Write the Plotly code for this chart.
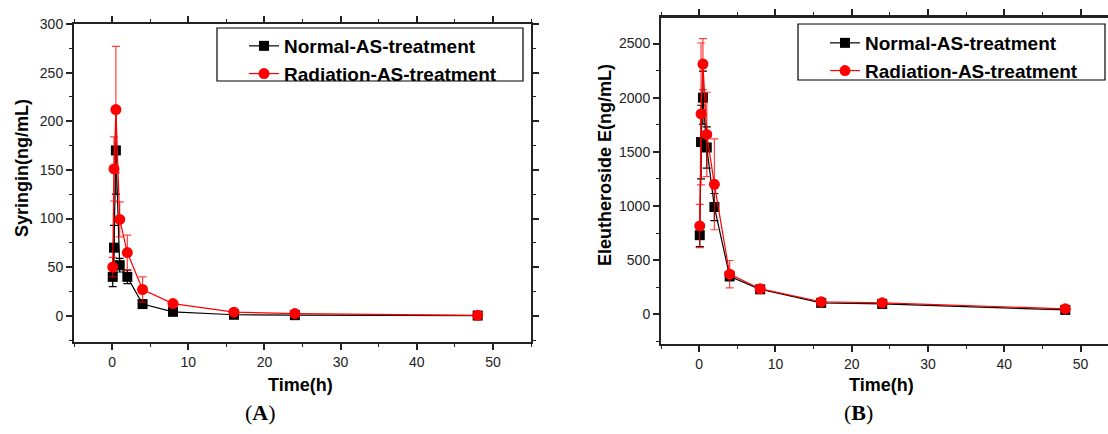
import plotly.graph_objects as go

# ---------------- data ----------------
time_h = [0.083, 0.25, 0.5, 1, 2, 4, 8, 16, 24, 48]

syringin_normal = [40, 70, 170, 52, 40, 12, 4, 1.0, 0.6, 0.2]
syringin_normal_err = [10, 23, 45, 7, 7, 2, 1, 0.5, 0.3, 0.1]
syringin_radiation = [50, 151, 212, 99, 65, 27, 12.5, 3.7, 2.2, 0.4]
syringin_radiation_err = [10, 33, 65, 18, 18, 13, 2, 1, 0.5, 0.2]

eleu_normal = [730, 1590, 2000, 1540, 990, 350, 230, 105, 95, 40]
eleu_normal_err = [105, 340, 245, 190, 125, 40, 25, 15, 10, 8]
eleu_radiation = [815, 1850, 2310, 1660, 1200, 370, 235, 115, 105, 50]
eleu_radiation_err = [200, 655, 236, 390, 420, 126, 20, 12, 10, 8]

series_names = ["Normal-AS-treatment", "Radiation-AS-treatment"]
x_ticks = [0, 10, 20, 30, 40, 50]
x_title = "Time(h)"
y_titles = ["Syringin(ng/mL)", "Eleutheroside E(ng/mL)"]
panel_labels = ["(<b>A</b>)", "(<b>B</b>)"]

# ---------------- layout helpers ----------------
W, H = 1108, 434
def px(x):
    return x / W
def py(y):
    return 1 - y / H

BLACK = "#000000"
RED = "#ff0000"
AXC = "#222222"
FONT = "Liberation Sans, Arial, sans-serif"

fig = go.Figure()

def add_series(xa, ya, leg, normal, normal_err, rad, rad_err):
    fig.add_trace(go.Scatter(
        x=time_h, y=normal, name=series_names[0], mode="lines+markers",
        error_y=dict(type="data", array=normal_err, color=BLACK, thickness=1.2, width=4),
        marker=dict(symbol="square", size=10, color=BLACK),
        line=dict(color=BLACK, width=1.2),
        xaxis=xa, yaxis=ya, legend=leg))
    fig.add_trace(go.Scatter(
        x=time_h, y=rad, name=series_names[1], mode="lines+markers",
        error_y=dict(type="data", array=rad_err, color="rgba(255,0,0,0.75)", thickness=1.2, width=4),
        marker=dict(symbol="circle", size=11, color=RED),
        line=dict(color=RED, width=1.2),
        xaxis=xa, yaxis=ya, legend=leg))

add_series("x", "y", "legend", syringin_normal, syringin_normal_err,
           syringin_radiation, syringin_radiation_err)
add_series("x2", "y2", "legend2", eleu_normal, eleu_normal_err,
           eleu_radiation, eleu_radiation_err)

axis_common = dict(
    showline=True, linecolor=AXC, linewidth=2, ticks="outside", ticklen=6,
    tickwidth=1.5, tickcolor=AXC, showgrid=False, zeroline=False, automargin=False,
    tickfont=dict(family=FONT, size=14, color=AXC),
)
minor_x = dict(dtick=5, ticks="outside", ticklen=3, tickwidth=1.2, tickcolor=AXC, showgrid=False)

title_font = dict(family=FONT, size=18, color="#000000", weight="bold")
legend_font = dict(family=FONT, size=19, color="#000000", weight="bold")
label_font = dict(family="Liberation Serif, serif", size=22, color="#000000")

def note(text, x, y, font, angle=0):
    return dict(text=text, x=px(x), y=py(y), xref="paper", yref="paper",
                xanchor="center", yanchor="middle", textangle=angle,
                showarrow=False, font=font)

fig.update_layout(
    width=W, height=H, margin=dict(l=0, r=0, t=0, b=0, autoexpand=False),
    paper_bgcolor="white", plot_bgcolor="white", showlegend=True,
    xaxis=dict(axis_common, domain=[px(74), px(531)], range=[-5, 55],
               tickvals=x_ticks, minor=minor_x, mirror="allticks", anchor="y"),
    yaxis=dict(axis_common, domain=[py(342), py(24)], range=[-27, 300],
               dtick=50, minor=dict(dtick=25, ticks="outside", ticklen=3, tickwidth=1.2, tickcolor=AXC),
               mirror="allticks", anchor="x"),
    xaxis2=dict(axis_common, domain=[px(661), 1.0], range=[-5, 53.6],
                tickvals=x_ticks, minor=minor_x, mirror="allticks", anchor="y2"),
    yaxis2=dict(axis_common, domain=[py(344), py(17)], range=[-275, 2745],
                dtick=500, minor=dict(dtick=250, ticks="outside", ticklen=3, tickwidth=1.2, tickcolor=AXC),
                mirror=False, anchor="x2"),
    legend=dict(x=px(244), y=py(27), xanchor="left", yanchor="top",
                bgcolor="rgba(0,0,0,0)", borderwidth=0, tracegroupgap=0, font=legend_font),
    legend2=dict(x=px(825), y=py(24), xanchor="left", yanchor="top",
                 bgcolor="rgba(0,0,0,0)", borderwidth=0, tracegroupgap=0, font=legend_font),
    shapes=[
        dict(type="rect", xref="paper", yref="paper", x0=px(217), x1=px(523),
             y0=py(81), y1=py(28), line=dict(color="#000000", width=1.2)),
        dict(type="rect", xref="paper", yref="paper", x0=px(798), x1=px(1105),
             y0=py(80), y1=py(24), line=dict(color="#000000", width=1.2)),
        # top border line for panel B (right border is cut off in the reference)
        dict(type="line", xref="paper", yref="paper", x0=px(661), x1=1.0,
             y0=py(17), y1=py(17), line=dict(color=AXC, width=2)),
    ],
    annotations=[
        note(x_title, 300, 385, title_font),
        note(x_title, 881, 385, title_font),
        note(y_titles[0], 22, 168, title_font, -90),
        note(y_titles[1], 605, 165, title_font, -90),
        note(panel_labels[0], 260, 412, label_font),
        note(panel_labels[1], 858, 412, label_font),
    ],
)

fig.write_html("out.html", config={"displayModeBar": False},
               post_script="document.body.style.margin='0';document.body.style.overflow='hidden';")
